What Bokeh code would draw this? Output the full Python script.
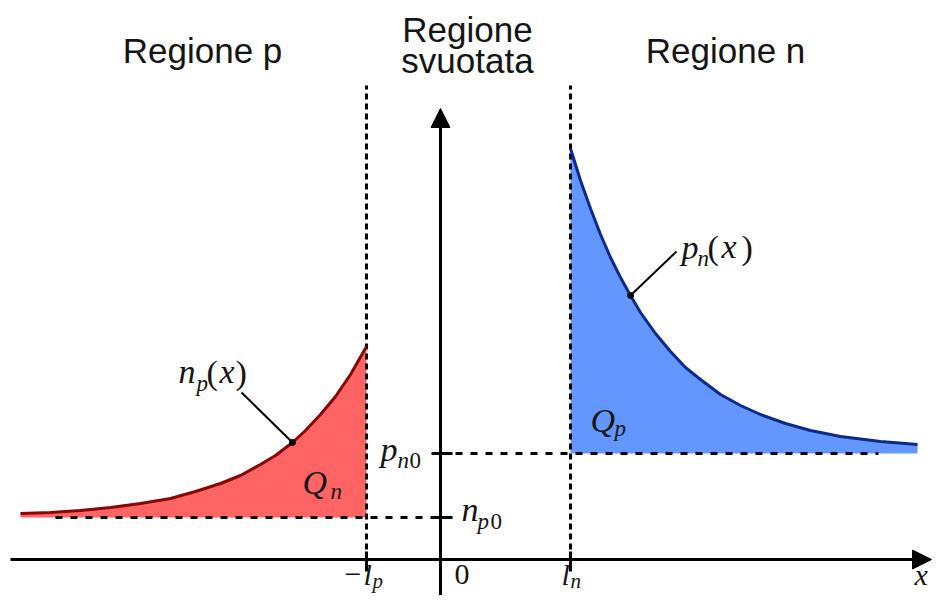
from bokeh.plotting import figure
from bokeh.models import Range1d, Arrow, NormalHead, ColumnDataSource
from bokeh.core.properties import value
from bokeh.embed import file_html
from bokeh.resources import INLINE

# ---------------- data (arbitrary units) ----------------
l_p = 74          # depletion edge on p side (at -l_p)
l_n = 130         # depletion edge on n side
n_p0 = 42         # equilibrium minority electrons in p region
p_n0 = 106        # equilibrium minority holes in n region

# n_p(x) in the p region
red_x = [-420, -390, -360, -330, -300, -270, -245, -220, -200, -180, -165, -148,
         -135, -120, -105, -90, -74]
red_y = [46, 47, 49, 52, 56, 61, 68, 76, 84, 95, 104, 117, 129, 145, 163, 185, 213]
# p_n(x) in the n region
blue_x = [130, 140, 150, 160, 170, 180, 190, 200, 215, 230, 245, 260, 280, 300,
          320, 345, 370, 400, 440, 477]
blue_y = [411, 379, 351, 325, 302, 282, 264, 247, 226, 208, 192, 180, 165, 154,
          145, 136, 129, 123, 118, 115]

red_dot = 11   # index of marked point on n_p(x)
blue_dot = 6   # index of marked point on p_n(x)

titles = ["Regione p", "Regione", "svuotata", "Regione n"]

# ---------------- figure ----------------
W, H = 934, 595
X0, Y0 = 440, 559          # picture position of the origin
p = figure(width=W, height=H, x_range=Range1d(-X0, W - X0), y_range=Range1d(Y0 - H, Y0),
           output_backend="svg", toolbar_location=None, min_border=0,
           x_axis_location=None, y_axis_location=None)
p.grid.visible = False
p.outline_line_color = None
p.background_fill_color = "white"
p.border_fill_color = "white"

RED_FILL, RED_LINE = "#ff6464", "#8a0606"
BLUE_FILL, BLUE_LINE = "#6496ff", "#0c2a8c"

# filled areas (excess carriers)
p.varea(x=red_x, y1=[n_p0] * len(red_x), y2=red_y, fill_color=RED_FILL)
p.varea(x=blue_x, y1=[p_n0] * len(blue_x), y2=blue_y, fill_color=BLUE_FILL)

# dashed guides
top = 474
p.segment(x0=[-l_p, l_n], y0=[0, 0], x1=[-l_p, l_n], y1=[top, top],
          line_color="black", line_width=3, line_dash="6 4")
p.segment(x0=[-385, 0], y0=[n_p0, p_n0], x1=[0, 438], y1=[n_p0, p_n0],
          line_color="black", line_width=3, line_dash="7 8")

# curves
p.line(red_x, red_y, line_color=RED_LINE, line_width=3)
p.line(blue_x, blue_y, line_color=BLUE_LINE, line_width=3)

# axes with arrows
p.add_layout(Arrow(end=NormalHead(size=19, fill_color="black", line_color="black", line_width=1),
                   x_start=-430, y_start=0, x_end=W - X0 - 3, y_end=0, line_width=3, line_color="black"))
p.add_layout(Arrow(end=NormalHead(size=19, fill_color="black", line_color="black", line_width=1),
                   x_start=0, y_start=Y0 - H, x_end=0, y_end=451, line_width=3, line_color="black"))

# ticks
p.segment(x0=[-l_p, l_n], y0=[-12, -12], x1=[-l_p, l_n], y1=[8, 8], line_color="black", line_width=3)
p.segment(x0=[-9, -9], y0=[n_p0, p_n0], x1=[12, 12], y1=[n_p0, p_n0], line_color="black", line_width=3)

# leader lines and dots
rdx, rdy = red_x[red_dot], red_y[red_dot]
bdx, bdy = blue_x[blue_dot], blue_y[blue_dot]
p.segment(x0=[rdx, bdx], y0=[rdy, bdy], x1=[rdx - 51, bdx + 46], y1=[rdy + 50, bdy + 44],
          line_color="black", line_width=2)
p.scatter([rdx, bdx], [rdy, bdy], size=6, color="black")

SHIFT = 0.36   # renderer places alphabetic baseline this fraction of font size lower

# titles (picture baselines 63 / 42 / 73 / 63)
TS = 35
p.text(x=[-238, 27, 27, 285], y=[Y0 - (b - SHIFT * TS) for b in (63, 42, 73, 63)], text=titles,
       text_font=value("Liberation Sans"), text_font_size="%dpx" % TS, text_align="center",
       text_baseline="alphabetic", text_color="#151515")

# math labels: (text, picture-left, picture-baseline, size, style)
M, S = 34, 23
B, BS = 30, 21
pieces = [
    ("n", 178, 383, M, "italic"), ("p", 196, 391, S, "italic"),
    ("(", 206, 384, M, "normal"), ("x", 219, 383, M, "italic"), (")", 235, 384, M, "normal"),
    ("p", 681, 259, M, "italic"), ("n", 697, 266, S, "italic"),
    ("(", 707, 259, M, "normal"), ("x", 721, 258, M, "italic"), (")", 741, 259, M, "normal"),
    ("Q", 302, 494, M, "italic"), ("n", 330, 499, S, "italic"),
    ("Q", 590, 432, M, "italic"), ("p", 614, 436, S, "italic"),
    ("p", 380, 461, M, "italic"), ("n", 397, 468, S, "italic"), ("0", 409, 468, S, "normal"),
    ("n", 461, 521, M, "italic"), ("p", 477, 529, S, "italic"), ("0", 490, 529, S, "normal"),
    ("\u2212", 344, 585, B, "normal"), ("l", 363, 585, B, "italic"), ("p", 372, 588, BS, "italic"),
    ("0", 454, 585, B, "normal"),
    ("l", 561, 585, B, "italic"), ("n", 570, 588, BS, "italic"),
    ("x", 914, 585, B, "italic"),
]
src = ColumnDataSource(dict(
    x=[a[1] - X0 for a in pieces], y=[Y0 - (a[2] - SHIFT * a[3]) for a in pieces],
    text=[a[0] for a in pieces],
    size=["%dpx" % a[3] for a in pieces], style=[a[4] for a in pieces]))
p.text(x="x", y="y", text="text", source=src, text_font=value("Liberation Serif"),
       text_font_size="size", text_font_style="style", text_align="left",
       text_baseline="alphabetic", text_color="#151515")

open("out.html", "w").write(file_html(p, INLINE))
